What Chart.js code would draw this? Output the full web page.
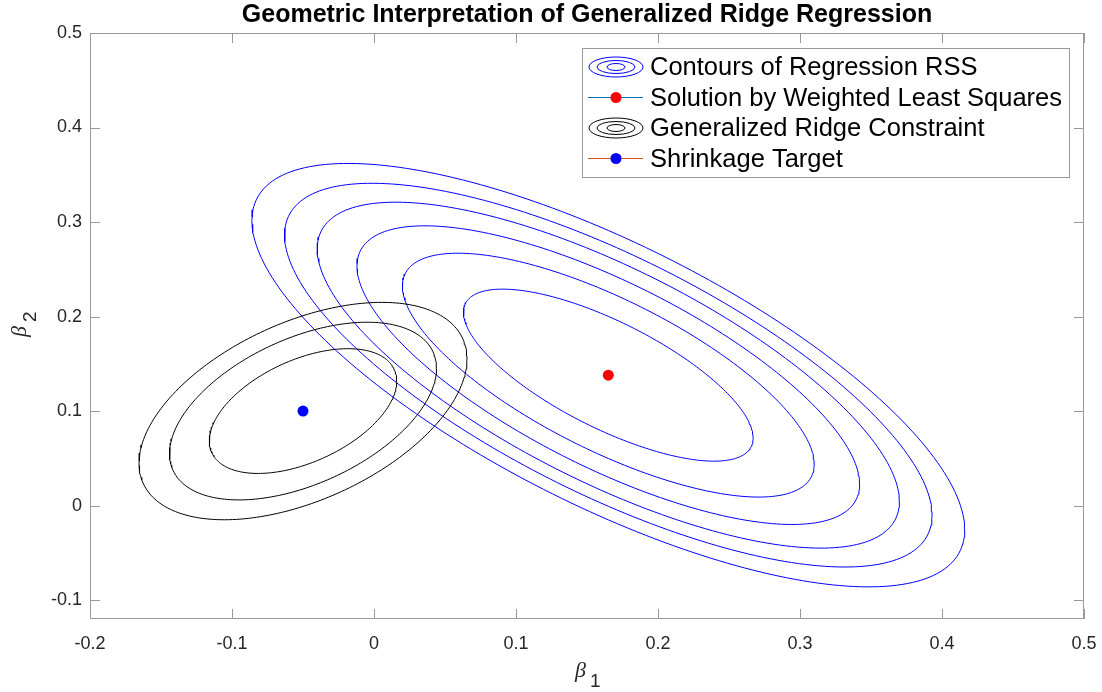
<!DOCTYPE html>
<html>
<head>
<meta charset="utf-8">
<title>Geometric Interpretation of Generalized Ridge Regression</title>
<script src="https://cdn.jsdelivr.net/npm/chart.js@4.4.1/dist/chart.umd.min.js"></script>
<style>
  html, body { margin: 0; padding: 0; background: #fff; }
  #wrap { width: 1102px; height: 692px; }
</style>
</head>
<body>
<div id="wrap"><canvas id="chart" width="1102" height="692"></canvas></div>
<script>
// ========== DATA ==========
const titleText = "Geometric Interpretation of Generalized Ridge Regression";
const xTicks = [-0.2, -0.1, 0, 0.1, 0.2, 0.3, 0.4, 0.5];
const yTicks = [-0.1, 0, 0.1, 0.2, 0.3, 0.4, 0.5];
const xRange = [-0.2, 0.5];
const yRange = [-0.12, 0.5];

// RSS contours: centre = weighted least squares solution
const wlsSolution = [0.165, 0.138];
const rssHalfWidth = [0.102, 0.145, 0.177, 0.205, 0.228, 0.251];   // x half extent of each contour
const rssHalfHeight = [0.091, 0.129, 0.158, 0.183, 0.203, 0.224];  // y half extent of each contour
const rssTilt = -0.73;                                             // y offset at x extreme / half height

// generalized ridge constraint contours: centre = shrinkage target
const shrinkTarget = [-0.05, 0.1];
const ridgeHalfWidth = [0.066, 0.094, 0.1155];
const ridgeHalfHeight = [0.066, 0.094, 0.115];
const ridgeTilt = 0.48;

const legendLabels = [
  "Contours of Regression RSS",
  "Solution by Weighted Least Squares",
  "Generalized Ridge Constraint",
  "Shrinkage Target"
];

// ========== HELPERS ==========
const SANS = "'Liberation Sans', Arial, Helvetica, sans-serif";

function contour(center, hw, hh, tilt) {
  const pts = [];
  const n = 240;
  const k = Math.sqrt(1 - tilt * tilt);
  for (let i = 0; i <= n; i++) {
    const t = (i / n) * 2 * Math.PI;
    pts.push({
      x: center[0] + hw * Math.cos(t),
      y: center[1] + hh * (tilt * Math.cos(t) + k * Math.sin(t))
    });
  }
  return pts;
}

function contourSet(center, hws, hhs, tilt, color) {
  return hws.map((hw, i) => ({
    type: 'scatter',
    data: contour(center, hw, hhs[i], tilt),
    showLine: true,
    borderColor: color,
    borderWidth: 1,
    pointRadius: 0,
    fill: false,
    tension: 0
  }));
}

function pointSet(p, color) {
  return {
    type: 'scatter',
    data: [{ x: p[0], y: p[1] }],
    pointRadius: 5.5,
    pointBackgroundColor: color,
    pointBorderWidth: 0,
    showLine: false
  };
}

// ========== PLUGINS ==========
const frame = {
  id: 'frame',
  afterDraw(chart) {
    const { ctx, chartArea: a, scales } = chart;
    ctx.save();
    ctx.strokeStyle = '#999';
    ctx.lineWidth = 1;
    ctx.strokeRect(Math.round(a.left) + 0.5, Math.round(a.top) + 0.5,
      Math.round(a.right - a.left) - 1, Math.round(a.bottom - a.top) - 1);
    const tl = 10;
    ctx.beginPath();
    xTicks.forEach(v => {
      const px = Math.round(scales.x.getPixelForValue(v)) + 0.5;
      ctx.moveTo(px, a.bottom); ctx.lineTo(px, a.bottom - tl);
      ctx.moveTo(px, a.top); ctx.lineTo(px, a.top + tl);
    });
    yTicks.forEach(v => {
      const py = Math.round(scales.y.getPixelForValue(v)) + 0.5;
      ctx.moveTo(a.left, py); ctx.lineTo(a.left + tl, py);
      ctx.moveTo(a.right, py); ctx.lineTo(a.right - tl, py);
    });
    ctx.stroke();

    // title
    ctx.fillStyle = '#000';
    ctx.font = "bold 25px " + SANS;
    ctx.textAlign = 'center';
    ctx.textBaseline = 'middle';
    ctx.fillText(titleText, (a.left + a.right) / 2, 15);

    // axis labels beta_1 and beta_2
    const drawBeta = (sub) => {
      ctx.textAlign = 'left';
      ctx.textBaseline = 'alphabetic';
      ctx.fillStyle = '#262626';
      ctx.font = "italic 22px 'Liberation Serif', 'Times New Roman', serif";
      ctx.fillText("β", -11, 2);
      ctx.font = "19px " + SANS;
      ctx.fillText(sub, 4, 12);
    };
    ctx.save();
    ctx.translate((a.left + a.right) / 2 - 1, 675);
    drawBeta("1");
    ctx.restore();
    ctx.save();
    ctx.translate(24, (a.top + a.bottom) / 2);
    ctx.rotate(-Math.PI / 2);
    drawBeta("2");
    ctx.restore();

    // legend
    const lx = 582.5, ly = 48.5, lw = 487, lh = 129;
    ctx.fillStyle = '#fff';
    ctx.fillRect(lx, ly, lw, lh);
    ctx.strokeStyle = '#999';
    ctx.strokeRect(lx, ly, lw, lh);
    const rows = [67, 97.5, 128, 158.5];
    const ix = 616;
    const rings = (y, color) => {
      ctx.strokeStyle = color;
      ctx.lineWidth = 1;
      [[27, 10], [19, 6.5], [9, 3.5]].forEach(([rx, ry]) => {
        ctx.beginPath();
        ctx.ellipse(ix, y, rx, ry, 0, 0, 2 * Math.PI);
        ctx.stroke();
      });
    };
    const lineDot = (y, lineColor, dotColor) => {
      ctx.strokeStyle = lineColor;
      ctx.lineWidth = 1;
      ctx.beginPath();
      ctx.moveTo(588, y); ctx.lineTo(643, y);
      ctx.stroke();
      ctx.fillStyle = dotColor;
      ctx.beginPath();
      ctx.arc(ix, y, 5.5, 0, 2 * Math.PI);
      ctx.fill();
    };
    rings(rows[0], '#0000ff');
    lineDot(rows[1], '#0072BD', '#ff0000');
    rings(rows[2], '#000000');
    lineDot(rows[3], '#D95319', '#0000ff');
    ctx.fillStyle = '#000';
    ctx.font = "25.5px " + SANS;
    ctx.textAlign = 'left';
    ctx.textBaseline = 'middle';
    legendLabels.forEach((t, i) => ctx.fillText(t, 650, rows[i] + 1));
    ctx.restore();
  }
};

// ========== CHART ==========
const datasets = [
  ...contourSet(shrinkTarget, ridgeHalfWidth, ridgeHalfHeight, ridgeTilt, '#000000'),
  ...contourSet(wlsSolution, rssHalfWidth, rssHalfHeight, rssTilt, '#0000ff'),
  pointSet(wlsSolution, '#ff0000'),
  pointSet(shrinkTarget, '#0000ff')
];

const tickFont = { family: SANS, size: 18 };

new Chart(document.getElementById('chart'), {
  type: 'scatter',
  data: { datasets },
  options: {
    responsive: false,
    animation: false,
    events: [],
    devicePixelRatio: 1,
    layout: { padding: { top: 33, right: 18, bottom: 0, left: 0 } },
    plugins: {
      legend: { display: false },
      title: { display: false },
      tooltip: { enabled: false }
    },
    scales: {
      x: {
        type: 'linear',
        min: xRange[0],
        max: xRange[1],
        afterBuildTicks: s => { s.ticks = xTicks.map(v => ({ value: v })); },
        afterFit: s => { s.height = 73; s.paddingLeft = 0; s.paddingRight = 0; },
        ticks: { color: '#262626', font: tickFont, padding: 14, maxRotation: 0, callback: v => String(v) },
        grid: { display: false, drawTicks: false },
        border: { display: false }
      },
      y: {
        type: 'linear',
        min: yRange[0],
        max: yRange[1],
        afterBuildTicks: s => { s.ticks = yTicks.map(v => ({ value: v })); },
        afterFit: s => { s.width = 90; s.paddingTop = 0; s.paddingBottom = 0; },
        ticks: { color: '#262626', font: tickFont, padding: 8, callback: v => String(v) },
        grid: { display: false, drawTicks: false },
        border: { display: false }
      }
    }
  },
  plugins: [frame]
});
</script>
</body>
</html>
